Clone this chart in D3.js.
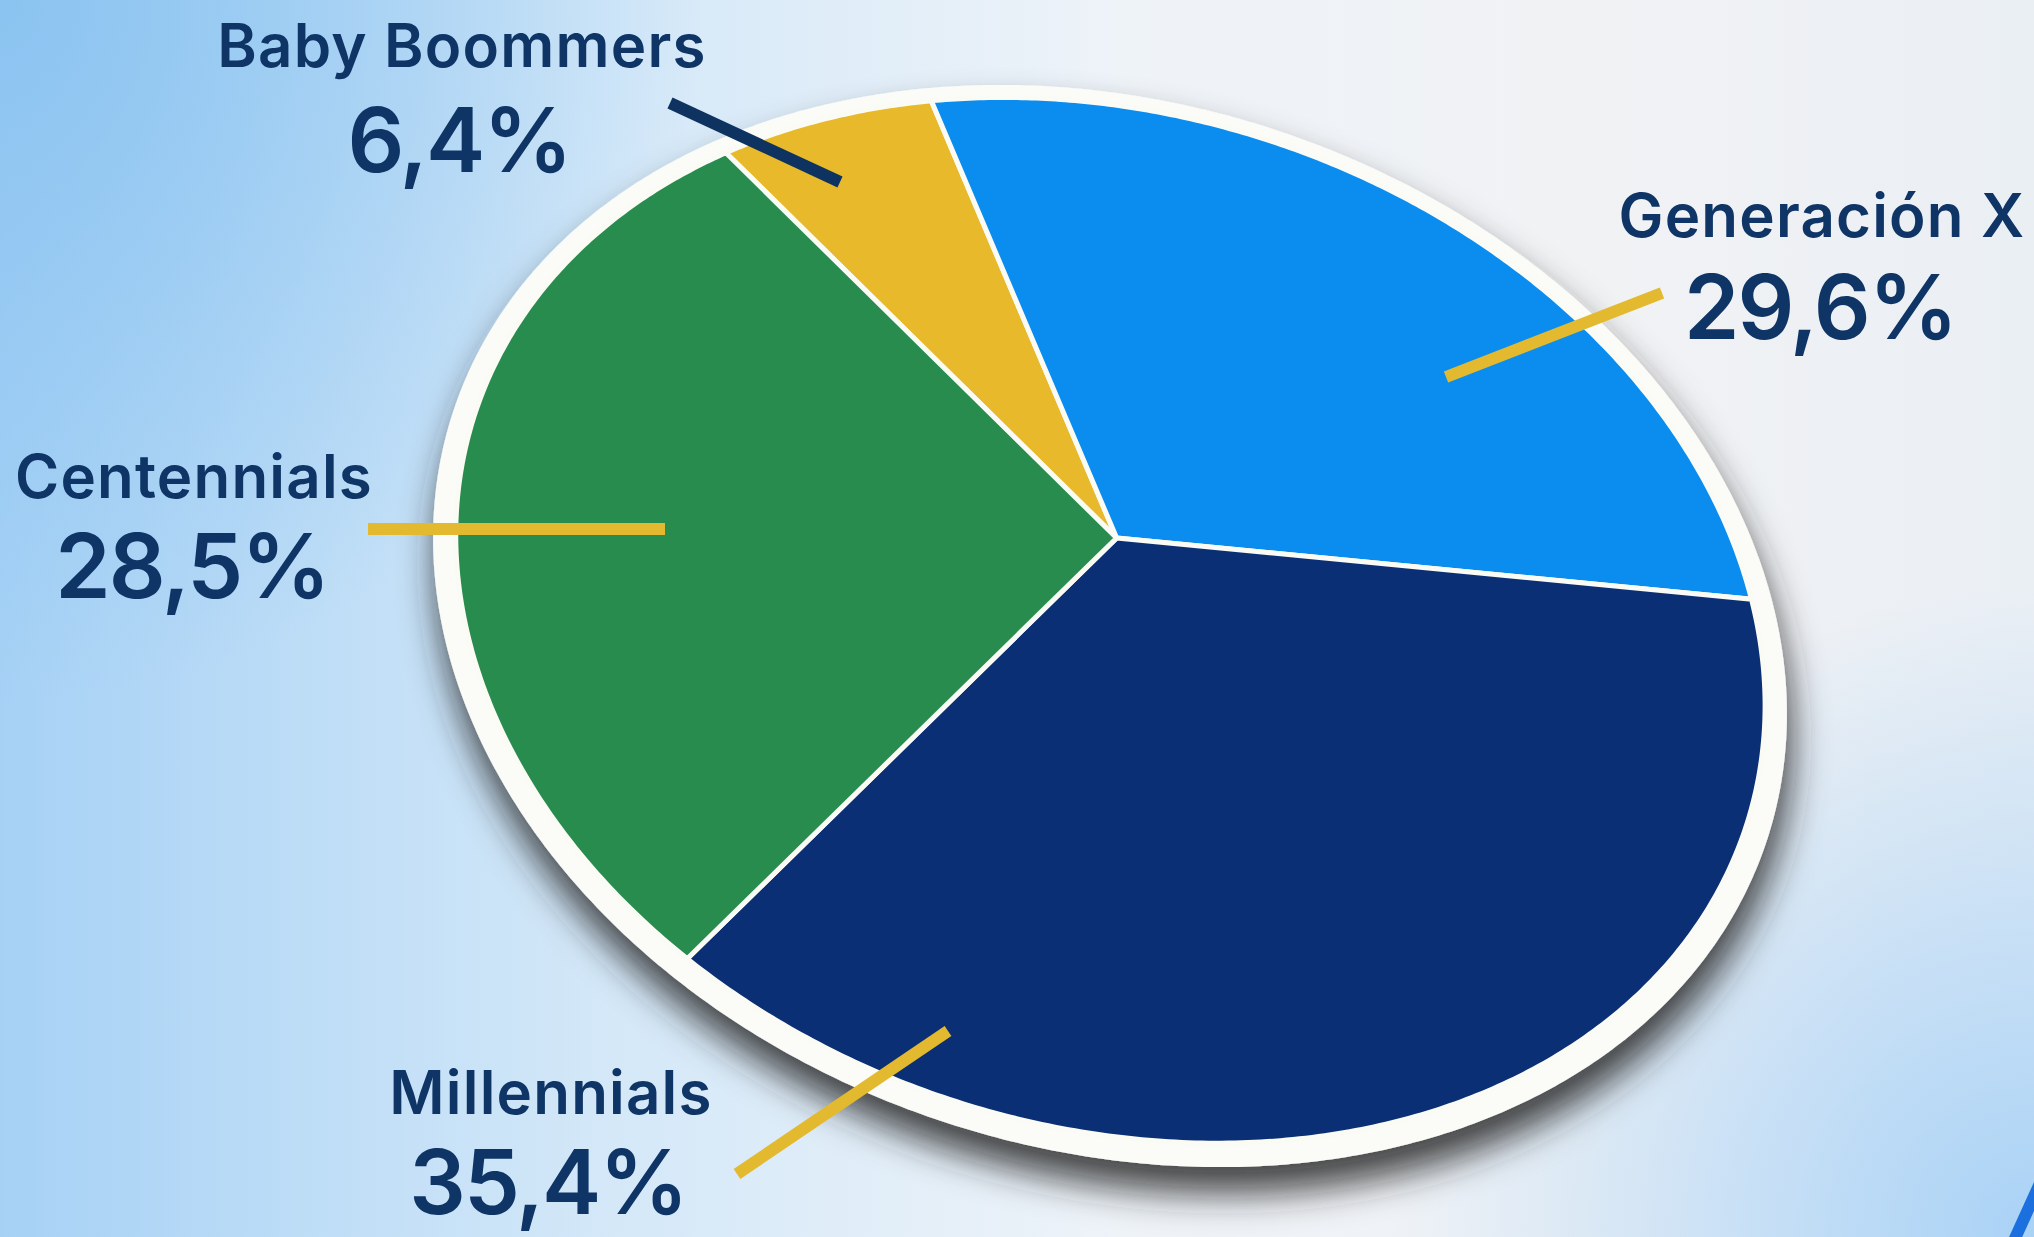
<!DOCTYPE html>
<html>
<head>
<meta charset="utf-8">
<script src="https://cdn.jsdelivr.net/npm/d3@7"></script>
<style>
  html, body { margin: 0; padding: 0; overflow: hidden; background: #eef3f8; }
  svg { display: block; }
</style>
</head>
<body>
<div id="chart"></div>
<script>
// data
const CATEGORIES = ["Baby Boommers", "Generación X", "Millennials", "Centennials"];
const VALUES = [6.4, 29.6, 35.4, 28.5];
const COLORS = ["#e8b92a", "#0b8def", "#0b2f74", "#288c4e"];

const width = 2034;
const height = 1237;

// pie drawn as a tilted disc: unit circle -> perspective boost -> ellipse
const CENTER = [1110, 626];
const AXES = [691, 523];
const TILT = 17.9 * Math.PI / 180;
const VERTEX_OFFSET = [-0.030, -0.164];   // where the pie centre lands inside the ellipse
const START = -56 * Math.PI / 180;
const R_IN = 0.968;

const esNum = d3.formatLocale({ decimal: ",", thousands: ".", grouping: [3], currency: ["", " €"] });
const fmtPct = v => esNum.format(".1f")(v) + "%";

const svg = d3.select("#chart")
  .append("svg")
  .attr("width", width)
  .attr("height", height);

const defs = svg.append("defs");

// background gradients
const bg = defs.append("linearGradient").attr("id", "bg")
  .attr("x1", "0").attr("y1", "0").attr("x2", "1").attr("y2", "0");
[["0%", "#a6d1f5"], ["30%", "#d4e8f8"], ["55%", "#eef3f8"], ["80%", "#f1f2f4"], ["100%", "#eaeff4"]]
  .forEach(([o, c]) => bg.append("stop").attr("offset", o).attr("stop-color", c));

const tl = defs.append("radialGradient").attr("id", "tl")
  .attr("cx", 0).attr("cy", 0).attr("r", 700).attr("gradientUnits", "userSpaceOnUse");
tl.append("stop").attr("offset", "0%").attr("stop-color", "#88c2f0").attr("stop-opacity", 0.9);
tl.append("stop").attr("offset", "100%").attr("stop-color", "#88c2f0").attr("stop-opacity", 0);

const br = defs.append("radialGradient").attr("id", "br")
  .attr("cx", width).attr("cy", height).attr("r", 650).attr("gradientUnits", "userSpaceOnUse");
br.append("stop").attr("offset", "0%").attr("stop-color", "#a9d2f6").attr("stop-opacity", 1);
br.append("stop").attr("offset", "100%").attr("stop-color", "#a9d2f6").attr("stop-opacity", 0);

const shadow = defs.append("filter").attr("id", "shadow")
  .attr("x", "-20%").attr("y", "-20%").attr("width", "140%").attr("height", "140%");
shadow.append("feDropShadow")
  .attr("dx", 4).attr("dy", 26).attr("stdDeviation", 18)
  .attr("flood-color", "#262626").attr("flood-opacity", 0.85);

svg.append("rect").attr("width", width).attr("height", height).attr("fill", "url(#bg)");
svg.append("rect").attr("width", width).attr("height", height).attr("fill", "url(#tl)");
svg.append("rect").attr("width", width).attr("height", height).attr("fill", "url(#br)");

// projection of a point of the unit disc (d3 angle convention)
const beta = Math.hypot(VERTEX_OFFSET[0], VERTEX_OFFSET[1]);
const nx = VERTEX_OFFSET[0] / beta, ny = VERTEX_OFFSET[1] / beta;
const gamma = 1 / Math.sqrt(1 - beta * beta);

function project(angle, r) {
  const x0 = r * Math.sin(angle);
  const y0 = -r * Math.cos(angle);
  const s = nx * x0 + ny * y0;
  const k = (gamma - 1) * s + gamma * beta;
  const w = gamma + gamma * beta * s;
  const x = (x0 + k * nx) / w;
  const y = (y0 + k * ny) / w;
  const ax = AXES[0] * x, by = AXES[1] * y;
  return [
    CENTER[0] + ax * Math.cos(TILT) - by * Math.sin(TILT),
    CENTER[1] + ax * Math.sin(TILT) + by * Math.cos(TILT)
  ];
}

const line = d3.line();
const deg = Math.PI / 180;

function ring(r) {
  return line(d3.range(0, 360, 0.5).map(a => project(a * deg, r))) + "Z";
}

function wedge(d) {
  const n = Math.max(2, Math.ceil((d.endAngle - d.startAngle) / (0.5 * deg)));
  const pts = [project(0, 0)];
  for (let i = 0; i <= n; i++) {
    pts.push(project(d.startAngle + (d.endAngle - d.startAngle) * i / n, R_IN));
  }
  return line(pts) + "Z";
}

const data = CATEGORIES.map((c, i) => ({ name: c, value: VALUES[i], color: COLORS[i] }));
const arcs = d3.pie()
  .sort(null)
  .value(d => d.value)
  .startAngle(START)
  .endAngle(START + 2 * Math.PI)(data);

// white rim with drop shadow
svg.append("path")
  .attr("d", ring(1))
  .attr("fill", "#fbfbf7")
  .attr("filter", "url(#shadow)");

const slices = svg.append("g");
slices.selectAll("path.slice")
  .data(arcs)
  .enter()
  .append("path")
  .attr("class", "slice")
  .attr("d", wedge)
  .attr("fill", d => d.data.color)
  .attr("stroke", "#fbfbf5")
  .attr("stroke-width", 5)
  .attr("stroke-linejoin", "round");

// labels and leader lines
const LABEL_LAYOUT = [
  { name: [462, 67],   pct: [459, 172],   leader: [[670, 103], [840, 182]],   leaderColor: "#0e3360" },
  { name: [1822, 237], pct: [1820, 339],  leader: [[1446, 377], [1662, 293]], leaderColor: "#e3ba2f" },
  { name: [551, 1114], pct: [548, 1214],  leader: [[737, 1174], [948, 1031]], leaderColor: "#e3ba2f" },
  { name: [194, 498],  pct: [192, 598],   leader: [[368, 529], [665, 529]],   leaderColor: "#e3ba2f" }
];

const labels = svg.append("g")
  .selectAll("g.label")
  .data(data)
  .enter()
  .append("g")
  .attr("class", "label");

labels.append("line")
  .attr("x1", (d, i) => LABEL_LAYOUT[i].leader[0][0])
  .attr("y1", (d, i) => LABEL_LAYOUT[i].leader[0][1])
  .attr("x2", (d, i) => LABEL_LAYOUT[i].leader[1][0])
  .attr("y2", (d, i) => LABEL_LAYOUT[i].leader[1][1])
  .attr("stroke", (d, i) => LABEL_LAYOUT[i].leaderColor)
  .attr("stroke-width", 12);

labels.append("text")
  .attr("x", (d, i) => LABEL_LAYOUT[i].name[0])
  .attr("y", (d, i) => LABEL_LAYOUT[i].name[1])
  .attr("text-anchor", "middle")
  .attr("fill", "#0e3566")
  .style("font-family", "Inter, 'Open Sans', sans-serif")
  .style("font-weight", 600)
  .style("font-size", "60px")
  .style("letter-spacing", "1.2px")
  .text(d => d.name);

labels.append("text")
  .attr("x", (d, i) => LABEL_LAYOUT[i].pct[0])
  .attr("y", (d, i) => LABEL_LAYOUT[i].pct[1])
  .attr("text-anchor", "middle")
  .attr("fill", "#0e3566")
  .style("font-family", "Inter, 'Open Sans', sans-serif")
  .style("font-weight", 600)
  .style("font-size", "89px")
  .style("letter-spacing", "-2px")
  .text(d => fmtPct(d.value));

// corner accent
svg.append("path")
  .attr("d", "M2046,1170 Q2030,1205 2012,1245")
  .attr("fill", "none")
  .attr("stroke", "#1c6fde")
  .attr("stroke-width", 12);
</script>
</body>
</html>
